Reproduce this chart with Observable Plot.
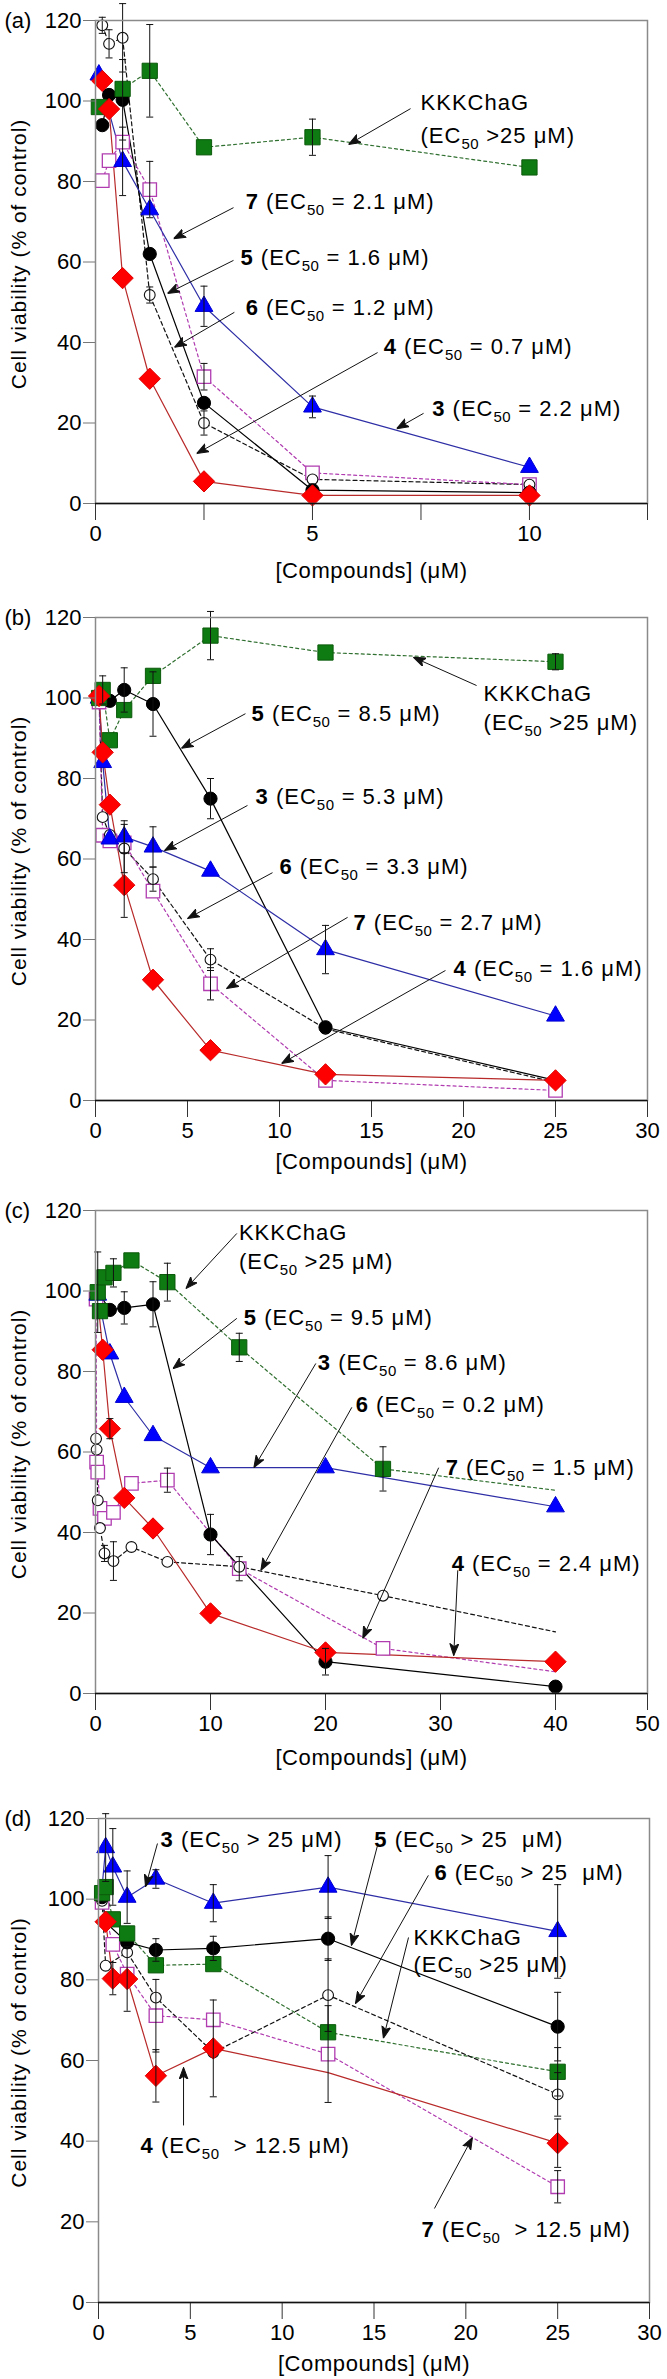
<!DOCTYPE html>
<html><head><meta charset="utf-8">
<script src="https://cdn.jsdelivr.net/npm/d3@7"></script>
<script src="https://cdn.jsdelivr.net/npm/@observablehq/plot@0.6"></script>
<style>
body{margin:0;background:#fff}
svg{display:block}
</style>
</head><body><div id="chart"></div>
<script>
// ---------- DATA: [concentration (µM), viability (%), error, marker? (1/0)] ----------
// Panel (a)
const a_KKK = [[0.078,98.5],[0.625,103],[1.25,107.5,11.5],[2.5,88.5],[5,91,4.5],[10,83.5]];
const a_3 = [[0.078,106.5],[0.625,85,8.5],[1.25,73],[2.5,49,5],[5,24,2.7],[10,9]];
const a_4 = [[0.156,105],[0.3125,98],[0.625,56],[1.25,31],[2.5,5.5],[5,2],[10,2]];
const a_5 = [[0.156,94],[0.3125,101.5],[0.625,100.3,10],[1.25,62],[2.5,25],[5,3.3],[10,2.7]];
const a_6 = [[0.156,118.8,2],[0.3125,114.2,3.5],[0.625,115.7,8.5],[1.25,51.8,2],[2.5,20,3],[5,6],[10,4.7]];
const a_7 = [[0.156,80.2],[0.3125,85.2],[0.625,89.8],[1.25,78,7],[2.5,31.5,3.3],[5,7.6],[10,4.7]];
// Panel (b)
const b_KKK = [[0.195,100],[0.39,102,3.5],[0.78,89.5],[1.56,97],[3.125,105.5],[6.25,115.5,6],[12.5,111.3],[25,109,2]];
const b_3 = [[0.195,100],[0.39,84],[0.78,65],[1.56,65.5,4],[3.125,63,5],[6.25,57],[12.5,37.5,6],[25,21]];
const b_4 = [[0.195,100.5],[0.39,86.5],[0.78,73.5],[1.56,53.5,8],[3.125,30],[6.25,12.5],[12.5,6.5],[25,5]];
const b_5 = [[0.195,100],[0.78,99.3],[1.56,102,5.5],[3.125,98.5,8],[6.25,75,5],[12.5,18.2],[25,5]];
const b_6 = [[0.195,100],[0.39,70.4],[0.78,66],[1.56,62.6,6],[3.125,55,3],[6.25,35,2.7],[12.5,17.8],[25,4.5]];
const b_7 = [[0.195,99],[0.39,65.9],[0.78,64.5],[1.56,64],[3.125,52],[6.25,29,4],[12.5,5],[25,2.5]];
// Panel (c)
const c_KKK = [[0.195,99.7,10],[0.39,95],[0.78,103.4],[1.56,104.5,3.5],[3.125,107.6],[6.25,102.2,4.7],[12.5,86,3.5],[25,55.8,5.5],[40,50.5,0,0]];
const c_3 = [[0.195,99],[1.25,84.4],[2.5,73.6],[5,64.1],[10,56.1],[20,56.1],[40,46.4]];
const c_4 = [[0.156,99,0,0],[0.625,85.4],[1.25,65.8,2.5],[2.5,48.6],[5,41],[10,19.9],[20,10.2],[40,7.9]];
const c_5 = [[0.156,100,0,0],[1.25,95.3],[2.5,95.8,4],[5,96.7,5.6],[10,39.5,5],[20,7.9,3.3],[40,1.7]];
const c_6 = [[0.049,63.3],[0.098,60.6],[0.195,48],[0.39,41.1],[0.78,34.8,2],[1.56,32.9,4.8],[3.125,36.4],[6.25,32.7],[12.5,31.5],[25,24.3],[40,15.3,0,0]];
const c_7 = [[0.049,98],[0.098,57.5],[0.195,55],[0.39,46],[0.78,43.5],[1.56,45],[3.125,52.2],[6.25,53,3],[12.5,31,3],[25,11.2],[40,5.4,0,0]];
// Panel (d)
const d_KKK = [[0.195,101.5],[0.39,103],[0.78,95],[1.56,91.5],[3.125,83.6],[6.25,83.9],[12.5,67],[25,57.2,6]];
const d_3 = [[0.195,103,0,0],[0.39,112.8,8.4],[0.78,108,9.5],[1.56,100.5,6.5],[3.125,105,2.3],[6.25,99,4.6],[12.5,103,7.8],[25,92,11.6]];
const d_4 = [[0.39,94.4],[0.78,80.3,4],[1.56,80.2,8],[3.125,56.2,6.5],[6.25,63,12],[12.5,57,0,0],[25,39.5,6]];
const d_5 = [[0.195,100.5],[0.39,94.2],[1.56,89.3],[3.125,87.4,2.8],[6.25,87.8,3],[12.5,90.2,5.4],[25,68.4,8.5]];
const d_6 = [[0.195,99.6],[0.39,83.5],[1.56,86.8],[3.125,75.6],[6.25,62],[12.5,76.2,9],[25,51.6,5.4]];
const d_7 = [[0.195,99.2],[0.78,88.8],[1.56,81.4],[3.125,71.1,9],[6.25,70.1],[12.5,61.6,12],[25,28.7,4]];

// Annotations: [bold, text, subscript, rest, x, y]
const ann_a = [
  ["", "KKKChaG", "", "", 7.49, 99.4],
  ["", "(EC", "50", " >25 μM)", 7.49, 91.4],
  ["7", " (EC", "50", " = 2.1 μM)", 3.46, 74.8],
  ["5", " (EC", "50", " = 1.6 μM)", 3.34, 61.1],
  ["6", " (EC", "50", " = 1.2 μM)", 3.46, 48.7],
  ["4", " (EC", "50", " = 0.7 μM)", 6.64, 38.8],
  ["3", " (EC", "50", " = 2.2 μM)", 7.76, 23.6]
];
const arrows_a = [[7.26,98.1,5.83,89.2],[3.18,73.5,1.80,65.8],[3.18,60.4,1.66,52.2],[3.20,47.5,1.82,38.8],[6.50,37.5,2.33,12.4],[7.56,22.4,6.94,18.6]];
const ann_b = [
  ["", "KKKChaG", "", "", 21.09, 101.1],
  ["", "(EC", "50", " >25 μM)", 21.09, 93.7],
  ["5", " (EC", "50", " = 8.5 μM)", 8.48, 96.1],
  ["3", " (EC", "50", " = 5.3 μM)", 8.70, 75.3],
  ["6", " (EC", "50", " = 3.3 μM)", 10.0, 57.9],
  ["7", " (EC", "50", " = 2.7 μM)", 14.02, 44.0],
  ["4", " (EC", "50", " = 1.6 μM)", 19.46, 32.8]
];
const arrows_b = [[20.71,103.1,17.28,110.1],[8.15,96.1,4.67,87.5],[8.26,73.3,3.75,62.1],[9.62,56.6,5.0,45.2],[13.70,45.5,7.12,27.8],[19.02,32.3,10.11,9.2]];
const ann_c = [
  ["", "KKKChaG", "", "", 12.47, 114.5],
  ["", "(EC", "50", " >25 μM)", 12.47, 107.1],
  ["5", " (EC", "50", " = 9.5 μM)", 12.90, 93.4],
  ["3", " (EC", "50", " = 8.6 μM)", 19.33, 82.2],
  ["6", " (EC", "50", " = 0.2 μM)", 22.63, 71.6],
  ["7", " (EC", "50", " = 1.5 μM)", 30.45, 56.1],
  ["4", " (EC", "50", " = 2.4 μM)", 30.97, 32.3]
];
const arrows_c = [[12.29,114.3,7.86,100.6],[12.29,93.2,6.73,80.7],[19.16,82.0,13.77,56.1],[22.29,71.1,14.38,30.6],[29.84,56.1,23.24,13.7],[31.50,30.6,31.15,9.4]];
const ann_d = [
  ["3", " (EC", "50", " > 25 μM)", 3.38, 114.6],
  ["5", " (EC", "50", " > 25  μM)", 15.02, 114.6],
  ["6", " (EC", "50", " > 25  μM)", 18.29, 106.4],
  ["", "KKKChaG", "", "", 17.15, 90.5],
  ["", "(EC", "50", " >25 μM)", 17.15, 83.6],
  ["4", " (EC", "50", "  > 12.5 μM)", 2.29, 38.9],
  ["7", " (EC", "50", "  > 12.5 μM)", 17.58, 17.9]
];
const arrows_d = [[3.21,113.8,2.56,103.1],[15.19,113.3,13.77,88.5],[17.96,105.9,13.99,74.1],[16.88,90.5,15.51,65.5],[4.63,43.9,4.63,58.3],[18.29,23.3,20.36,40.9]];

// Ticks
const yTicks = [0, 20, 40, 60, 80, 100, 120];
const ticksA = [0, 5, 10], tickLabelsA = ["0", "5", "10"], minorA = [2.5, 7.5, 12.72];
const ticksB = [0, 5, 10, 15, 20, 25, 30], tickLabelsB = ["0", "5", "10", "15", "20", "25", "30"];
const ticksC = [0, 10, 20, 30, 40, 48], tickLabelsC = ["0", "10", "20", "30", "40", "50"];
const ticksD = [0, 5, 10, 15, 20, 25, 30], tickLabelsD = ["0", "5", "10", "15", "20", "25", "30"];
const xTitle = "[Compounds] (μM)";
const yTitle = "Cell viability (% of control)";

// ---------- STYLES ----------
const styles = {
  KKK: {line: "#2f6f2f", dash: "3,3", symbol: "square", r: 8.6, fill: "#0e7a12", stroke: "#0b5a0b", sw: 1},
  "3": {line: "#2e2ea6", dash: null, symbol: "triangle", r: 6.6, fill: "#0000ff", stroke: "#0000d0", sw: 1},
  "4": {line: "#b82a2a", dash: null, symbol: "diamond2", r: 9.6, fill: "#ff0000", stroke: "#e00000", sw: 1},
  "5": {line: "#000000", dash: null, symbol: "circle", r: 6.6, fill: "#000000", stroke: "#000000", sw: 1},
  "6": {line: "#111111", dash: "4,3", symbol: "circle", r: 5.4, fill: "#ffffff", stroke: "#111111", sw: 1.1},
  "7": {line: "#b03cb0", dash: "3,3", symbol: "square", r: 7.6, fill: "#ffffff", stroke: "#b03cb0", sw: 1.3}
};
const lineOrder = ["KKK", "6", "7", "5", "3", "4"];
const dotOrder = ["7", "6", "3", "5", "KKK", "4"];
const FONT = '"Liberation Sans", Arial, Helvetica, sans-serif';

const capSymbol = {draw(ctx, size) { const w = Math.sqrt(size / Math.PI); ctx.moveTo(-w, 0); ctx.lineTo(w, 0); }};

function headMarker(color, context) {
  const doc = (context && context.document) || document;
  const ns = "http://www.w3.org/2000/svg";
  const m = doc.createElementNS(ns, "marker");
  m.setAttribute("viewBox", "-12 -5 12 10");
  m.setAttribute("markerWidth", 12);
  m.setAttribute("markerHeight", 10);
  m.setAttribute("markerUnits", "userSpaceOnUse");
  m.setAttribute("refX", 0);
  m.setAttribute("refY", 0);
  m.setAttribute("orient", "auto");
  const p = doc.createElementNS(ns, "path");
  p.setAttribute("d", "M0,0L-12,-4.5L-9,0L-12,4.5Z");
  p.setAttribute("fill", color);
  m.appendChild(p);
  return m;
}

const panels = [
  {id: "(a)", series: {KKK: a_KKK, "3": a_3, "4": a_4, "5": a_5, "6": a_6, "7": a_7}, ann: ann_a, arrows: arrows_a,
   xmax: 12.72, ticks: ticksA, labels: tickLabelsA, minor: minorA, height: 597, mt: 20, mb: 94, ml: 95, mr: 20, titleDy: 67},
  {id: "(b)", series: {KKK: b_KKK, "3": b_3, "4": b_4, "5": b_5, "6": b_6, "7": b_7}, ann: ann_b, arrows: arrows_b,
   xmax: 30, ticks: ticksB, labels: tickLabelsB, minor: [], height: 593, mt: 20, mb: 90, ml: 95, mr: 20, titleDy: 61},
  {id: "(c)", series: {KKK: c_KKK, "3": c_3, "4": c_4, "5": c_5, "6": c_6, "7": c_7}, ann: ann_c, arrows: arrows_c,
   xmax: 48, ticks: ticksC, labels: tickLabelsC, minor: [], height: 598, mt: 20, mb: 95, ml: 95, mr: 20, titleDy: 64},
  {id: "(d)", series: {KKK: d_KKK, "3": d_3, "4": d_4, "5": d_5, "6": d_6, "7": d_7}, ann: ann_d, arrows: arrows_d,
   xmax: 30, ticks: ticksD, labels: tickLabelsD, minor: [], height: 591, mt: 30, mb: 77, ml: 98, mr: 18, titleDy: 61}
];

function addTspan(t, txt, attrs) {
  const ts = document.createElementNS("http://www.w3.org/2000/svg", "tspan");
  ts.textContent = txt;
  for (const k in (attrs || {})) ts.setAttribute(k, attrs[k]);
  t.appendChild(ts);
}

function enrich(svg) {
  svg.querySelectorAll("text").forEach(t => {
    const c = t.textContent;
    if (c.includes("¦")) {
      const [b, pre, sub, post] = c.split("¦");
      while (t.firstChild) t.removeChild(t.firstChild);
      t.setAttribute("letter-spacing", "1");
      t.setAttribute("xml:space", "preserve");
      t.style.whiteSpace = "pre";
      if (b) addTspan(t, b, {"font-weight": "bold"});
      addTspan(t, pre);
      if (sub) {
        addTspan(t, sub, {"font-size": "15", "dy": "6", "letter-spacing": "0.5"});
        addTspan(t, post, {"dy": "-6"});
      }
    } else if (c === yTitle) {
      t.setAttribute("letter-spacing", "1");
    } else if (c === xTitle) {
      t.setAttribute("letter-spacing", "0.6");
    }
  });
}

const root = document.getElementById("chart");
for (const p of panels) {
  const rows = [];
  for (const k of Object.keys(p.series)) for (const [x, y, e = 0, m = 1] of p.series[k]) rows.push({s: k, x, y, e, m});
  const marks = [];
  for (const k of lineOrder) {
    const st = styles[k];
    marks.push(Plot.line(rows.filter(d => d.s === k), {x: "x", y: "y", stroke: st.line, strokeWidth: 1.2, strokeDasharray: st.dash || undefined}));
  }
  for (const k of dotOrder) {
    const st = styles[k];
    marks.push(Plot.dot(rows.filter(d => d.s === k && d.m), {x: "x", y: "y", symbol: st.symbol, r: st.r, fill: st.fill, stroke: st.stroke, strokeWidth: st.sw}));
  }
  const eb = rows.filter(d => d.e > 0);
  marks.push(Plot.ruleX(eb, {x: "x", y1: d => d.y - d.e, y2: d => d.y + d.e, stroke: "#111", strokeWidth: 1}));
  marks.push(Plot.dot(eb.flatMap(d => [{x: d.x, y: d.y - d.e}, {x: d.x, y: d.y + d.e}]), {x: "x", y: "y", symbol: capSymbol, r: 3.5, fill: "none", stroke: "#111", strokeWidth: 1}));
  // annotation arrows and labels
  marks.push(Plot.link(p.arrows, {x1: d => d[0], y1: d => d[1], x2: d => d[2], y2: d => d[3], stroke: "#111", strokeWidth: 1, markerEnd: headMarker}));
  marks.push(Plot.text(p.ann, {x: d => d[4], y: d => d[5], text: d => [d[0], d[1], d[2], d[3]].join("¦"), textAnchor: "start", lineAnchor: "middle", fontSize: 22, fill: "#000"}));
  // frame & axes
  marks.push(Plot.frame({stroke: "#8a8a8a", strokeWidth: 1.5}));
  marks.push(Plot.axisY(yTicks, {anchor: "left", tickSize: 12, tickPadding: 2, label: null, stroke: "#777", fontSize: 22, fill: "#000"}));
  marks.push(Plot.axisX(p.ticks, {anchor: "bottom", tickSize: 17, tickPadding: 5, label: null, stroke: "#333", fontSize: 22, fill: "#000",
    tickFormat: d => p.labels[p.ticks.indexOf(d)]}));
  if (p.minor.length) marks.push(Plot.axisX(p.minor, {anchor: "bottom", tickSize: 17, label: null, stroke: "#333", tickFormat: () => ""}));
  marks.push(Plot.ruleY([0], {stroke: "#111", strokeWidth: 1.6}));
  marks.push(Plot.text([xTitle], {text: d => d, frameAnchor: "bottom", dy: p.titleDy, textAnchor: "middle", lineAnchor: "middle", fontSize: 22, fill: "#000"}));
  marks.push(Plot.text([yTitle], {text: d => d, frameAnchor: "left", rotate: -90, dx: -(p.ml - 19), dy: -8, textAnchor: "middle", lineAnchor: "middle", fontSize: 21, fill: "#000"}));
  marks.push(Plot.text([p.id], {text: d => d, frameAnchor: "top-left", dx: -(p.ml - 4), textAnchor: "start", lineAnchor: "middle", fontSize: 22, fill: "#000"}));

  const svg = Plot.plot({
    width: 667, height: p.height,
    marginLeft: p.ml, marginRight: p.mr, marginTop: p.mt, marginBottom: p.mb,
    x: {domain: [0, p.xmax]},
    y: {domain: [0, 120]},
    style: {fontFamily: FONT, fontSize: "22px", color: "#000", background: "#fff", overflow: "visible"},
    marks
  });
  enrich(svg);
  root.appendChild(svg);
}
</script>
</body></html>
